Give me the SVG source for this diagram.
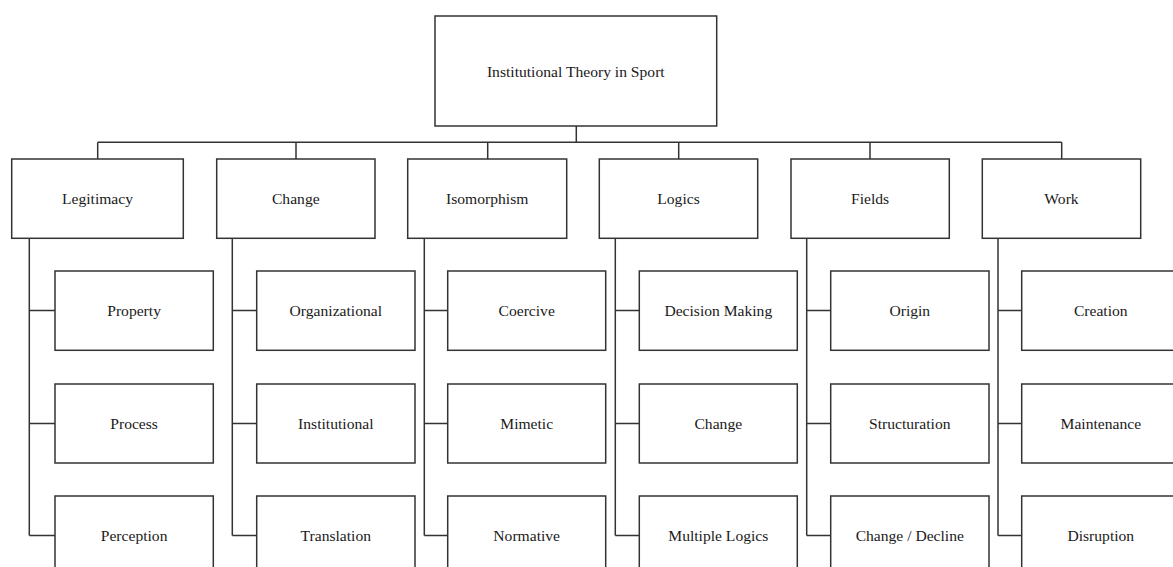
<svg xmlns="http://www.w3.org/2000/svg" width="1173" height="567" viewBox="0 0 1173 567">
<style>
rect{fill:#fff;stroke:#333;stroke-width:1.5}
text{font-family:"Liberation Serif","Times New Roman",serif;font-size:15.6px;fill:#1a1a1a;text-anchor:middle;dominant-baseline:central}
#connectors path{fill:none;stroke:#333;stroke-width:1.5}
</style>
<rect x="0" y="0" width="1173" height="567" style="fill:#fff;stroke:none"/>
<g id="connectors">
<path d="M576.3 126V142.3M97.7 142.3H1061.7M97.7 142.3V159M296 142.3V159M487.7 142.3V159M678.7 142.3V159M870 142.3V159M1061.7 142.3V159"/>
<path d="M29.3 238.3V535.5M29.3 310.5H55M29.3 423.5H55M29.3 535.5H55"/>
<path d="M232.3 238.3V535.5M232.3 310.5H256.7M232.3 423.5H256.7M232.3 535.5H256.7"/>
<path d="M424.3 238.3V535.5M424.3 310.5H447.7M424.3 423.5H447.7M424.3 535.5H447.7"/>
<path d="M615.3 238.3V535.5M615.3 310.5H639.3M615.3 423.5H639.3M615.3 535.5H639.3"/>
<path d="M806.7 238.3V535.5M806.7 310.5H830.7M806.7 423.5H830.7M806.7 535.5H830.7"/>
<path d="M998 238.3V535.5M998 310.5H1021.7M998 423.5H1021.7M998 535.5H1021.7"/>
</g>
<g id="root"><rect x="435" y="16" width="281.7" height="110"/><text x="575.8" y="71">Institutional Theory in Sport</text></g>
<g id="legitimacy"><rect x="11.7" y="159" width="171.6" height="79.3"/><text x="97.5" y="198.6">Legitimacy</text></g>
<g id="change"><rect x="216.7" y="159" width="158.3" height="79.3"/><text x="295.8" y="198.6">Change</text></g>
<g id="isomorphism"><rect x="407.7" y="159" width="159" height="79.3"/><text x="487.2" y="198.6">Isomorphism</text></g>
<g id="logics"><rect x="599.3" y="159" width="158.4" height="79.3"/><text x="678.5" y="198.6">Logics</text></g>
<g id="fields"><rect x="791" y="159" width="158.3" height="79.3"/><text x="870.1" y="198.6">Fields</text></g>
<g id="work"><rect x="982.3" y="159" width="158.4" height="79.3"/><text x="1061.5" y="198.6">Work</text></g>
<g id="property"><rect x="55" y="271" width="158.3" height="79.3"/><text x="134.1" y="310.6">Property</text></g>
<g id="process"><rect x="55" y="384" width="158.3" height="79"/><text x="134.1" y="423.5">Process</text></g>
<g id="perception"><rect x="55" y="496" width="158.3" height="79"/><text x="134.1" y="535.5">Perception</text></g>
<g id="organizational"><rect x="256.7" y="271" width="158.3" height="79.3"/><text x="335.8" y="310.6">Organizational</text></g>
<g id="institutional"><rect x="256.7" y="384" width="158.3" height="79"/><text x="335.8" y="423.5">Institutional</text></g>
<g id="translation"><rect x="256.7" y="496" width="158.3" height="79"/><text x="335.8" y="535.5">Translation</text></g>
<g id="coercive"><rect x="447.7" y="271" width="158" height="79.3"/><text x="526.7" y="310.6">Coercive</text></g>
<g id="mimetic"><rect x="447.7" y="384" width="158" height="79"/><text x="526.7" y="423.5">Mimetic</text></g>
<g id="normative"><rect x="447.7" y="496" width="158" height="79"/><text x="526.7" y="535.5">Normative</text></g>
<g id="decision-making"><rect x="639.3" y="271" width="158" height="79.3"/><text x="718.3" y="310.6">Decision Making</text></g>
<g id="logics-change"><rect x="639.3" y="384" width="158" height="79"/><text x="718.3" y="423.5">Change</text></g>
<g id="multiple-logics"><rect x="639.3" y="496" width="158" height="79"/><text x="718.3" y="535.5">Multiple Logics</text></g>
<g id="origin"><rect x="830.7" y="271" width="158.3" height="79.3"/><text x="909.8" y="310.6">Origin</text></g>
<g id="structuration"><rect x="830.7" y="384" width="158.3" height="79"/><text x="909.8" y="423.5">Structuration</text></g>
<g id="change-decline"><rect x="830.7" y="496" width="158.3" height="79"/><text x="909.8" y="535.5">Change / Decline</text></g>
<g id="creation"><rect x="1021.7" y="271" width="158.3" height="79.3"/><text x="1100.8" y="310.6">Creation</text></g>
<g id="maintenance"><rect x="1021.7" y="384" width="158.3" height="79"/><text x="1100.8" y="423.5">Maintenance</text></g>
<g id="disruption"><rect x="1021.7" y="496" width="158.3" height="79"/><text x="1100.8" y="535.5">Disruption</text></g>
</svg>
